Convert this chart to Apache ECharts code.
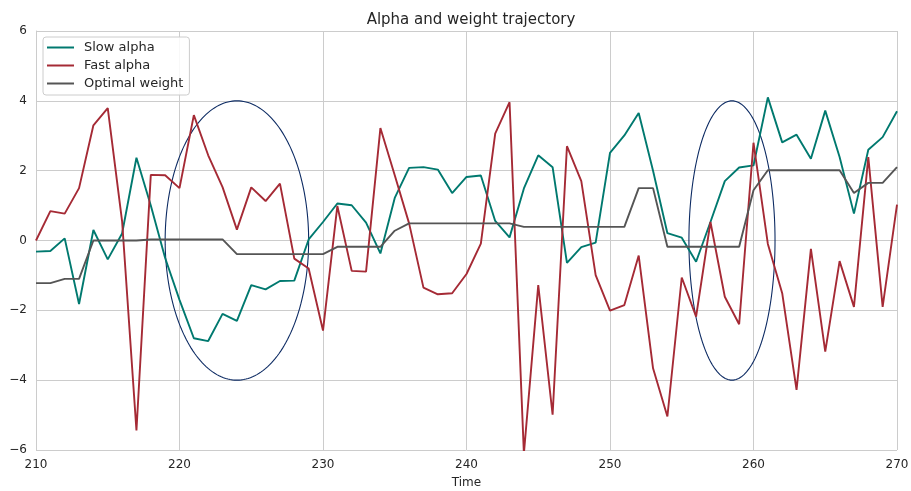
<!DOCTYPE html>
<html>
<head>
<meta charset="utf-8">
<script src="https://cdn.jsdelivr.net/npm/echarts@6/dist/echarts.min.js"></script>
<style>html,body{margin:0;padding:0;background:#fff}#c{width:911px;height:491px}</style>
</head>
<body>
<div id="c"></div>
<script>
var startTime = 210;
var slowAlpha = [-0.32,-0.30,0.06,-1.82,0.30,-0.54,0.2,2.37,1.0,-0.5,-1.7,-2.8,-2.88,-2.1,-2.3,-1.28,
  -1.4,-1.16,-1.15,0.03,0.53,1.06,1.01,0.51,-0.37,1.22,2.08,2.1,2.03,1.36,
  1.82,1.86,0.56,0.09,1.49,2.44,2.1,-0.64,-0.19,-0.06,2.51,3.01,3.65,2.0,0.21,
  0.08,-0.61,0.53,1.7,2.09,2.15,4.1,2.81,3.03,2.34,3.72,2.39,0.77,2.6,2.96,3.7];
var fastAlpha = [0.0,0.84,0.77,1.5,3.3,3.79,0.55,-5.44,1.88,1.87,1.5,3.59,2.44,1.53,0.31,1.52,
  1.13,1.63,-0.52,-0.8,-2.58,0.99,-0.87,-0.89,3.22,1.87,0.49,-1.35,-1.54,-1.51,
  -0.96,-0.09,3.06,3.96,-6.1,-1.28,-4.99,2.7,1.7,-0.99,-2.01,-1.85,-0.43,-3.66,-5.04,
  -1.06,-2.18,0.53,-1.61,-2.4,2.8,-0.1,-1.51,-4.28,-0.24,-3.18,-0.59,-1.9,2.39,-1.9,1.03];
var optimalWeight = [-1.22,-1.22,-1.1,-1.1,0.0,0.0,0.0,0.0,0.03,0.03,0.03,0.03,0.03,0.03,-0.39,-0.39,
  -0.39,-0.39,-0.39,-0.39,-0.39,-0.18,-0.18,-0.18,-0.18,0.28,0.49,0.49,0.49,0.49,
  0.49,0.49,0.49,0.49,0.39,0.39,0.39,0.39,0.39,0.39,0.39,0.39,1.5,1.5,-0.18,
  -0.18,-0.18,-0.18,-0.18,-0.18,1.44,2.01,2.01,2.01,2.01,2.01,2.01,1.36,1.65,1.65,2.1];
// highlight ellipses: [centerTime, centerValue, width(time), height(value)]
var ellipseA = [224, 0, 10, 8];
var ellipseB = [258.5, 0, 6, 8];
var xTicks = [210, 220, 230, 240, 250, 260, 270];
var yTicks = [-6, -4, -2, 0, 2, 4, 6];

function pairs(arr){ return arr.map(function(v,i){ return [startTime+i, v]; }); }
function ellipse(e){
  var pts=[]; var n=200;
  for(var k=0;k<=n;k++){ var a=2*Math.PI*k/n; pts.push([e[0]+e[2]/2*Math.cos(a), e[1]+e[3]/2*Math.sin(a)]); }
  return pts;
}
function minus(v){ return String(v).replace('-', '\u2212'); }

var font = 'DejaVu Sans';
var chart = echarts.init(document.getElementById('c'));
chart.setOption({
  animation:false,
  textStyle:{fontFamily:font},
  title:{text:'Alpha and weight trajectory', left:466, top:8, textAlign:'center',
    textStyle:{fontFamily:font, fontSize:15, fontWeight:'normal', color:'#262626'}},
  grid:{left:36, right:14, top:31, bottom:41, containLabel:false, outerBoundsMode:'none'},
  legend:{data:['Slow alpha','Fast alpha','Optimal weight'], orient:'vertical', left:43, top:37,
    padding:[4,6,5,4], itemGap:5, itemWidth:27, itemHeight:14,
    borderColor:'#cccccc', borderWidth:1, borderRadius:3, backgroundColor:'rgba(255,255,255,0.85)',
    textStyle:{fontFamily:font, fontSize:13, color:'#262626', padding:[0,0,0,5]}, icon:'path://M0,0 L27,0 L27,2 L0,2 Z'},
  xAxis:{type:'value', min:210, max:270, interval:10, name:'Time', nameLocation:'middle', nameGap:27,
    nameTextStyle:{fontFamily:font, fontSize:12, color:'#262626'},
    axisLine:{show:true, lineStyle:{color:'#cccccc', width:1}}, axisTick:{show:false},
    axisLabel:{fontFamily:font, fontSize:12, color:'#262626', margin:9},
    splitLine:{show:true, lineStyle:{color:'#cccccc', width:1}}},
  yAxis:{type:'value', min:-6, max:6, interval:2,
    axisLine:{show:true, lineStyle:{color:'#cccccc', width:1}}, axisTick:{show:false},
    axisLabel:{fontFamily:font, fontSize:12, color:'#262626', margin:9, formatter:minus},
    splitLine:{show:true, lineStyle:{color:'#cccccc', width:1}}},
  series:[
    {name:'Slow alpha', type:'line', data:pairs(slowAlpha), showSymbol:false, symbol:'none',
      lineStyle:{color:'#00796f', width:1.9}, itemStyle:{color:'#00796f'}, clip:true},
    {name:'Fast alpha', type:'line', data:pairs(fastAlpha), showSymbol:false, symbol:'none',
      lineStyle:{color:'#a52a35', width:1.9}, itemStyle:{color:'#a52a35'}, clip:true},
    {name:'Optimal weight', type:'line', data:pairs(optimalWeight), showSymbol:false, symbol:'none',
      lineStyle:{color:'#555555', width:1.9}, itemStyle:{color:'#555555'}, clip:true},
    {name:'ellA', type:'line', data:ellipse(ellipseA), showSymbol:false, symbol:'none', silent:true,
      lineStyle:{color:'#0d2b63', width:1.1}, z:1},
    {name:'ellB', type:'line', data:ellipse(ellipseB), showSymbol:false, symbol:'none', silent:true,
      lineStyle:{color:'#0d2b63', width:1.1}, z:1}
  ]
});
</script>
</body>
</html>
